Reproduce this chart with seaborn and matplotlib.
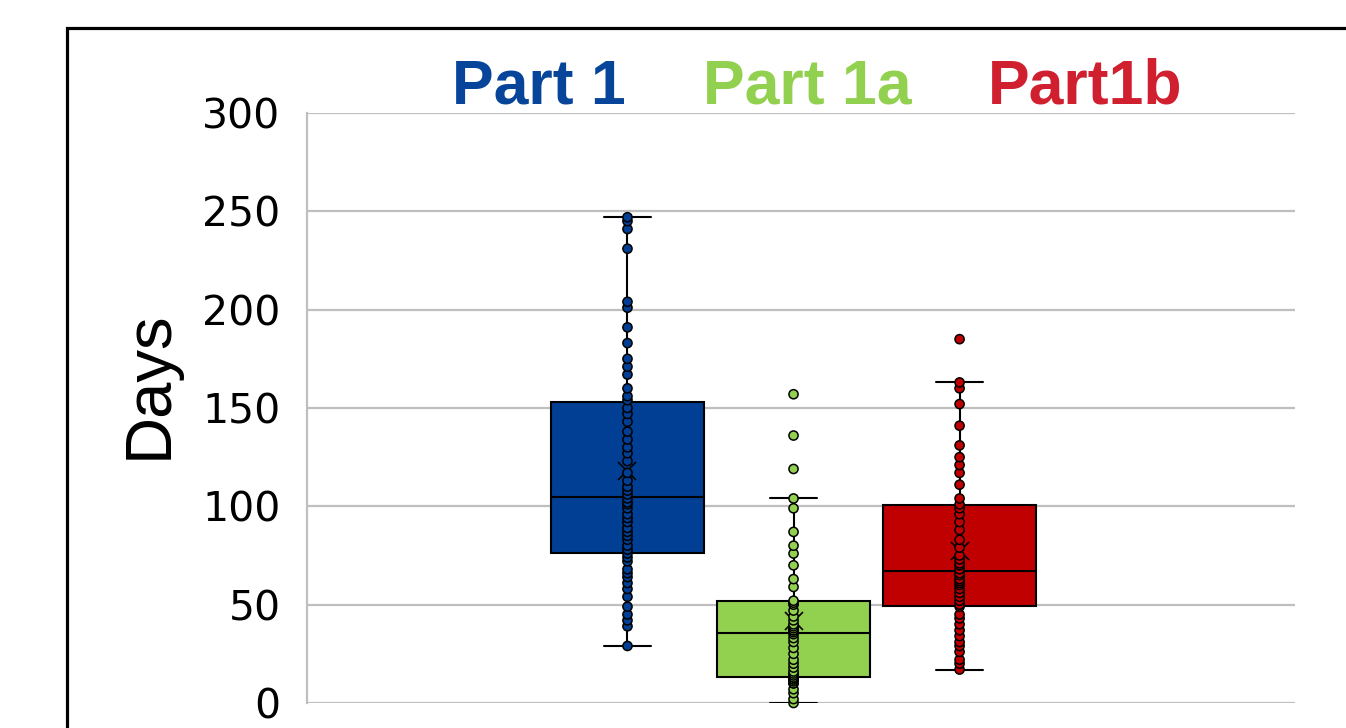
import matplotlib
matplotlib.use("Agg")
import matplotlib.pyplot as plt
import numpy as np
import pandas as pd
import seaborn as sns
from matplotlib.patches import Rectangle

groups = ["Part 1", "Part 1a", "Part1b"]
legend_labels = ["Part 1", "Part 1a", "Part1b"]

part1_days = [29, 39, 42, 45, 49, 54, 58, 61, 64, 66, 68, 72, 74, 76,
              78, 80, 83, 85, 87, 89, 92, 94, 96, 99, 101, 102, 104, 106,
              108, 110, 113, 117, 123, 127, 130, 134, 138, 143, 147, 150, 154,
              156, 160, 167, 171, 175, 183, 191, 201, 204, 231, 241, 245, 247]
part1a_days = [0, 2, 5, 7, 10, 10, 11, 12, 12, 13, 13, 13,
               14, 15, 16, 18, 20, 22, 25, 28, 31, 33, 35,
               36, 37, 37, 38, 39, 40, 42, 44, 47, 50, 51,
               52, 59, 63, 70, 76, 80, 87, 99, 104, 119, 136, 157]
part1b_days = [17, 20, 22, 26, 29, 31, 34, 37, 40, 43, 45, 49,
               50, 52, 54, 56, 58, 60, 61, 62, 63, 65, 66,
               68, 70, 71, 73, 75, 79, 83, 88, 92, 96, 99,
               101, 104, 111, 117, 121, 125, 131, 141, 152, 160, 163, 185]

box_colors = ["#003f94", "#92d050", "#c00000"]
text_colors = ["#07459a", "#92d050", "#d01f2e"]
y_ticks = [0, 50, 100, 150, 200, 250, 300]

df = pd.DataFrame({
    "group": [groups[0]] * len(part1_days) + [groups[1]] * len(part1a_days) + [groups[2]] * len(part1b_days),
    "days": part1_days + part1a_days + part1b_days,
})
palette = dict(zip(groups, box_colors))

sns.set_style("white")
plt.rcParams["font.family"] = ["DejaVu Sans"]

fig = plt.figure(figsize=(13.46, 7.28), dpi=100)
ax = fig.add_axes([307 / 1346, 1 - 703 / 728, 988 / 1346, 590 / 728])

sns.boxplot(data=df, x="group", y="days", hue="group", palette=palette, order=groups,
            width=0.92, saturation=1, showfliers=False, showmeans=True,
            linecolor="black", linewidth=1.5,
            meanprops={"marker": "x", "markeredgecolor": "black", "markersize": 13,
                       "markeredgewidth": 1.2},
            capwidths=0.28, legend=False, ax=ax)
sns.stripplot(data=df, x="group", y="days", hue="group", palette=palette, order=groups,
              jitter=False, size=6.6, edgecolor="black", linewidth=1.1, legend=False, ax=ax)

for coll in ax.collections:
    coll.set_clip_on(False)
    coll.set_zorder(5)

ax.set_xlim(-1.93, 4.02)
ax.set_ylim(0, 300)
ax.set_yticks(y_ticks)
ax.set_xticks([])
ax.set_xlabel("")
ax.grid(axis="y", color="#bfbfbf", linewidth=1.6)
ax.set_axisbelow(True)
for side in ["top", "right", "bottom"]:
    ax.spines[side].set_visible(False)
ax.spines["left"].set_color("#bfbfbf")
ax.spines["left"].set_linewidth(1.6)
ax.tick_params(axis="y", length=0, pad=19, labelsize=29.5, labelcolor="black")

ax.set_ylabel("Days", fontsize=47, color="black", family=["Liberation Sans", "DejaVu Sans"])
ax.yaxis.set_label_coords(-0.1285, 0.539)

centers = [539, 807, 1085]
for cx, label, color in zip(centers, legend_labels, text_colors):
    fig.text(cx / 1346, 1 - 103 / 728, label, color=color, fontsize=45, fontweight="bold",
             ha="center", va="baseline", family=["Liberation Sans", "DejaVu Sans"])

fig.patches.append(Rectangle((67 / 1346, -0.2), 1.2, 1.2 - 28 / 728, transform=fig.transFigure,
                             fill=False, edgecolor="black", linewidth=2.3))

fig.savefig("out.png", dpi=100)
